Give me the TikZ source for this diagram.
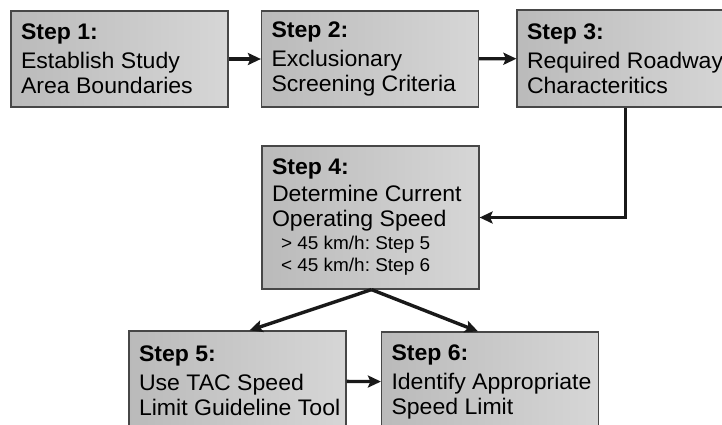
\documentclass[tikz,border=0pt]{standalone}
\usepackage{fontspec}
\setmainfont[FakeStretch=1.025]{Liberation Sans}
\usetikzlibrary{arrows.meta}

\tikzset{
  stepbox/.style={draw=black!72, line width=1.2pt,
    left color=black!27, middle color=black!5, right color=black!16,
    text width=197pt, inner xsep=10pt, inner ysep=0pt, align=flush left,
    font=\fontsize{22.5}{25}\selectfont\frenchspacing},
  flow/.style={draw=black!90, line width=3.4pt,
    -{Stealth[length=13pt,width=12pt,inset=2.5pt]}},
}
\newcommand{\stephead}[1]{\textbf{Step #1:}}
\newcommand{\branchline}[1]{{\fontsize{18.5}{25}\selectfont\hspace*{9pt}#1}}

\begin{document}
\begin{tikzpicture}[x=1pt,y=-1pt]
        \clip (0,0) rectangle (722,424);
        \fill[white] (0,0) rectangle (722,424);
        \begin{scope}[every node/.style={stepbox}]
        \node[minimum height=96pt] (s1) at (119.5,59) {\stephead{1}\\[4pt] Establish Study\\ Area Boundaries};
        \node[minimum height=96pt] (s2) at (370,59) {\stephead{2}\\[4pt] Exclusionary\\ Screening Criteria};
        \node[minimum height=97pt] (s3) at (625.5,58.5) {\stephead{3}\\[4pt] \mbox{Required Roadway}\\ Characteritics};
        \node[minimum height=143pt] (s4) at (370.5,217.5) {\stephead{4}\\[2pt] Determine Current\\ Operating Speed\\[-2pt] \branchline{> 45 km/h: Step 5}\\[-3pt] \branchline{< 45 km/h: Step 6}};
        \node[minimum height=100pt] (s5) at (237.5,381) {\stephead{5}\\[4pt] Use TAC Speed\\ \mbox{Limit Guideline Tool}};
        \node[minimum height=100pt] (s6) at (490,382) {\stephead{6}\\[4pt] \mbox{Identify Appropriate}\\ Speed Limit};
        \end{scope}
        \begin{scope}[every edge/.style={flow}]
        \path (s1) edge (s2);
        \path (s2) edge (s3);
        \path ([xshift=1pt]s4.south) edge ([xshift=12pt]s5.north);
        \path ([xshift=1pt]s4.south) edge ([xshift=-12pt]s6.north);
        \path (s5) edge (s6);
        \end{scope}
        \draw[flow] (s3.south) |- (s4.east);
        \end{tikzpicture}
\end{document}
